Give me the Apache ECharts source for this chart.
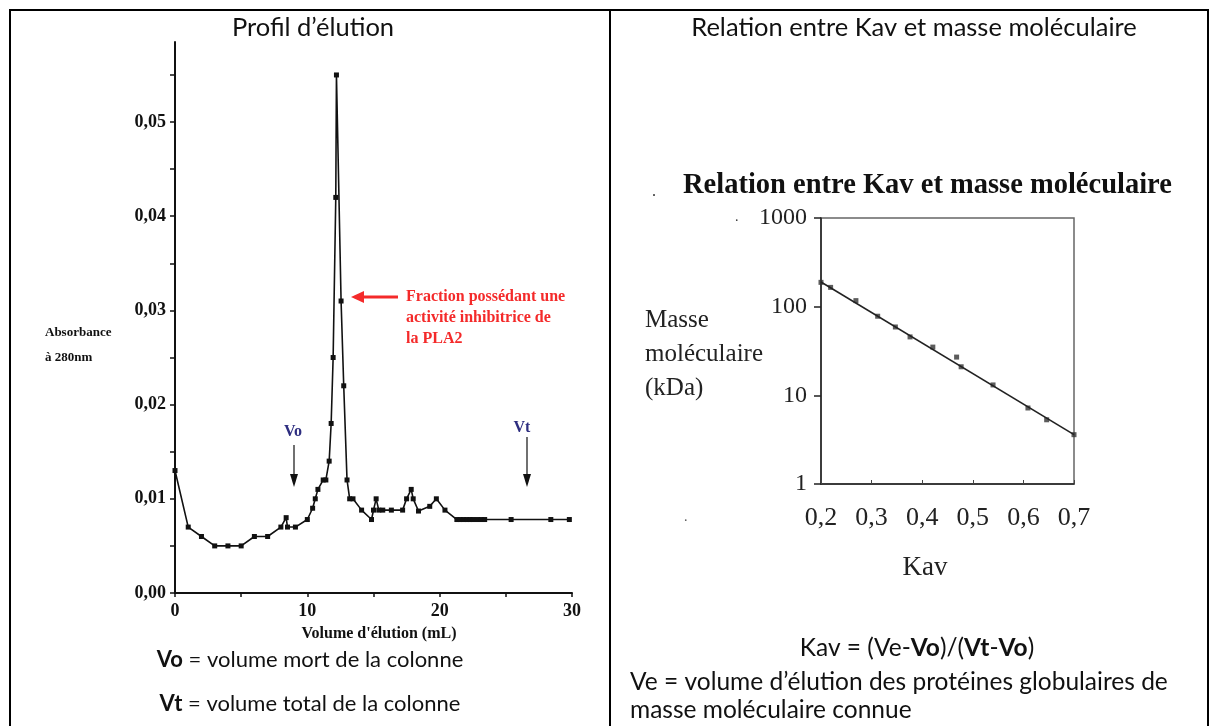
<!DOCTYPE html>
<html>
<head>
<meta charset="utf-8">
<title>Profil d'élution</title>
<script src="https://cdn.jsdelivr.net/npm/echarts@6.0.0/dist/echarts.min.js"></script>
<style>
  html, body { margin: 0; padding: 0; background: #fff; }
  #chart { width: 1218px; height: 726px; }
</style>
</head>
<body>
<div id="chart"></div>
<script>
// elution profile (left)
var elutionVolume = [0, 1, 2, 3, 4, 5, 6, 7, 8, 8.4, 8.5, 9.1, 10, 10.4, 10.6, 10.8, 11.2, 11.4,
  11.65, 11.8, 11.95, 12.15, 12.2, 12.55, 12.75, 13.0, 13.2, 13.45, 14.1, 14.85, 15.0, 15.2,
  15.4, 15.7, 16.35, 17.2, 17.5, 17.85, 18.0, 18.4, 19.25, 19.75, 20.4, 21.3, 21.55, 21.8,
  22.05, 22.3, 22.5, 22.85, 23.15, 23.4, 25.4, 28.4, 29.8];
var absorbance = [0.013, 0.007, 0.006, 0.005, 0.005, 0.005, 0.006, 0.006, 0.007, 0.008, 0.007,
  0.007, 0.0078, 0.009, 0.010, 0.011, 0.012, 0.012, 0.014, 0.018, 0.025, 0.042, 0.055, 0.031,
  0.022, 0.012, 0.010, 0.010, 0.0088, 0.0078, 0.0088, 0.010, 0.0088, 0.0088, 0.0088, 0.0088,
  0.010, 0.011, 0.010, 0.0087, 0.0092, 0.010, 0.0088, 0.0078, 0.0078, 0.0078, 0.0078, 0.0078,
  0.0078, 0.0078, 0.0078, 0.0078, 0.0078, 0.0078, 0.0078];
var absTicks = [0, 0.005, 0.01, 0.015, 0.02, 0.025, 0.03, 0.035, 0.04, 0.045, 0.05, 0.055];
var absLabels = [0, 0.01, 0.02, 0.03, 0.04, 0.05];
var volTicks = [0, 5, 10, 15, 20, 25, 30];
var volLabels = [0, 10, 20, 30];

// Kav vs molecular mass (right)
var kavPoints = [0.2, 0.219, 0.269, 0.312, 0.347, 0.376, 0.421, 0.468, 0.477, 0.54, 0.609, 0.646, 0.7];
var massPoints = [188, 165, 117, 78, 59, 45.6, 35, 27, 21, 13.1, 7.2, 5.3, 3.6];
var fitKav = [0.2, 0.7];
var fitMass = [190, 3.6];
var kavTicks = [0.2, 0.3, 0.4, 0.5, 0.6, 0.7];

var serif = '"Liberation Serif", "DejaVu Serif", serif';
var sans = 'Lato, "Open Sans", sans-serif';

function pairs(xs, ys) {
  return xs.map(function (x, i) { return [x, ys[i]]; });
}
function comma(v, d) {
  return Number(v).toFixed(d).replace('.', ',');
}

var chart = echarts.init(document.getElementById('chart'));

var option = {
  backgroundColor: '#fff',
  animation: false,
  grid: [
    { left: 175, right: 646, top: 42, bottom: 133 },
    { left: 821, right: 144, top: 218, bottom: 242, show: true, borderColor: '#666', borderWidth: 1.5 }
  ],
  xAxis: [
    {
      gridIndex: 0, type: 'value', min: 0, max: 30, interval: 5,
      axisLine: { show: true, onZero: false, lineStyle: { color: '#111', width: 2 } },
      axisTick: { show: true, length: 4, customValues: volTicks, lineStyle: { color: '#111', width: 1.5 } },
      axisLabel: {
        customValues: volLabels, margin: 9,
        fontFamily: serif, fontWeight: 'bold', fontSize: 18, color: '#111'
      },
      splitLine: { show: false }
    },
    {
      gridIndex: 1, type: 'value', min: 0.2, max: 0.7, interval: 0.1,
      axisLine: { show: true, onZero: false, lineStyle: { color: '#222', width: 1.5 } },
      axisTick: { show: true, inside: true, length: 4, customValues: kavTicks, lineStyle: { color: '#444' } },
      axisLabel: {
        customValues: kavTicks, margin: 21,
        fontFamily: serif, fontSize: 26, color: '#222',
        formatter: function (v) { return comma(v, 1); }
      },
      splitLine: { show: false }
    }
  ],
  yAxis: [
    {
      gridIndex: 0, type: 'value', min: 0, max: 0.0585,
      axisLine: { show: true, onZero: false, lineStyle: { color: '#111', width: 2 } },
      axisTick: { show: true, length: 5, customValues: absTicks, lineStyle: { color: '#111', width: 1.5 } },
      axisLabel: {
        customValues: absLabels, margin: 9,
        fontFamily: serif, fontWeight: 'bold', fontSize: 18, color: '#111',
        formatter: function (v) { return comma(v, 2); }
      },
      splitLine: { show: false }
    },
    {
      gridIndex: 1, type: 'log', min: 1, max: 1000, logBase: 10,
      axisLine: { show: true, onZero: false, lineStyle: { color: '#222', width: 1.5 } },
      axisTick: { show: true, length: 7, lineStyle: { color: '#222', width: 1.5 } },
      axisLabel: {
        margin: 14, fontFamily: serif, fontSize: 24, color: '#222',
        formatter: function (v) { return String(Math.round(v)); }
      },
      splitLine: { show: false },
      minorTick: { show: false }
    }
  ],
  series: [
    {
      name: 'Absorbance', type: 'line', xAxisIndex: 0, yAxisIndex: 0,
      data: pairs(elutionVolume, absorbance),
      symbol: 'rect', symbolSize: 5,
      lineStyle: { color: '#111', width: 1.6 },
      itemStyle: { color: '#111' }
    },
    {
      name: 'Droite', type: 'line', xAxisIndex: 1, yAxisIndex: 1,
      data: pairs(fitKav, fitMass),
      symbol: 'none',
      lineStyle: { color: '#222', width: 1.6 }
    },
    {
      name: 'Étalons', type: 'scatter', xAxisIndex: 1, yAxisIndex: 1,
      data: pairs(kavPoints, massPoints),
      symbol: 'rect', symbolSize: 5,
      itemStyle: { color: '#333' }
    }
  ],
  graphic: [
    // table borders
    { type: 'line', shape: { x1: 9, y1: 10, x2: 1209, y2: 10 }, style: { stroke: '#000', lineWidth: 2 } },
    { type: 'line', shape: { x1: 10, y1: 10, x2: 10, y2: 726 }, style: { stroke: '#000', lineWidth: 2 } },
    { type: 'line', shape: { x1: 610, y1: 10, x2: 610, y2: 726 }, style: { stroke: '#000', lineWidth: 2 } },
    { type: 'line', shape: { x1: 1208, y1: 10, x2: 1208, y2: 726 }, style: { stroke: '#000', lineWidth: 2 } },

    // cell titles
    { type: 'text', x: 313, y: 28, style: { text: 'Profil d’élution', font: '25.5px ' + sans, fill: '#111', align: 'center', verticalAlign: 'middle' } },
    { type: 'text', x: 914, y: 28, style: { text: 'Relation entre Kav et masse moléculaire', font: '25.5px ' + sans, fill: '#111', align: 'center', verticalAlign: 'middle' } },

    // left chart annotations
    { type: 'text', x: 45, y: 320, style: { text: 'Absorbance\nà 280nm', font: 'bold 13px ' + serif, lineHeight: 25, fill: '#111' } },
    { type: 'text', x: 379, y: 634, style: { text: 'Volume d\'élution (mL)', font: 'bold 16px ' + serif, fill: '#111', align: 'center', verticalAlign: 'middle' } },
    { type: 'text', x: 406, y: 286, style: { text: 'Fraction possédant une\nactivité inhibitrice de\nla PLA2', font: 'bold 16px ' + serif, lineHeight: 21, fill: '#f42a2a' } },
    { type: 'line', shape: { x1: 362, y1: 297, x2: 398, y2: 297 }, style: { stroke: '#f42a2a', lineWidth: 3 } },
    { type: 'polygon', shape: { points: [[351, 297], [364, 291], [364, 303]] }, style: { fill: '#f42a2a' } },
    { type: 'text', x: 293, y: 432, style: { text: 'Vo', font: 'bold 16px ' + serif, fill: '#2e2e80', align: 'center', verticalAlign: 'middle' } },
    { type: 'line', shape: { x1: 294, y1: 445, x2: 294, y2: 478 }, style: { stroke: '#111', lineWidth: 1.2 } },
    { type: 'polygon', shape: { points: [[294, 487], [290, 474], [298, 474]] }, style: { fill: '#111' } },
    { type: 'text', x: 522, y: 428, style: { text: 'Vt', font: 'bold 16px ' + serif, fill: '#2e2e80', align: 'center', verticalAlign: 'middle' } },
    { type: 'line', shape: { x1: 527, y1: 437, x2: 527, y2: 478 }, style: { stroke: '#111', lineWidth: 1.2 } },
    { type: 'polygon', shape: { points: [[527, 487], [523, 474], [531, 474]] }, style: { fill: '#111' } },
    { type: 'text', x: 310, y: 660, style: { text: '{b|Vo} = volume mort de la colonne', font: '22px ' + sans, fill: '#111', align: 'center', verticalAlign: 'middle', rich: { b: { font: 'bold 22px ' + sans, fill: '#111' } } } },
    { type: 'text', x: 310, y: 704, style: { text: '{b|Vt} = volume total de la colonne', font: '22px ' + sans, fill: '#111', align: 'center', verticalAlign: 'middle', rich: { b: { font: 'bold 22px ' + sans, fill: '#111' } } } },

    // right chart annotations
    { type: 'text', x: 683, y: 186, style: { text: 'Relation entre Kav et masse moléculaire', font: 'bold 28.5px ' + serif, fill: '#111', verticalAlign: 'middle' } },
    { type: 'text', x: 645, y: 303, style: { text: 'Masse\nmoléculaire\n(kDa)', font: '25px ' + serif, lineHeight: 34, fill: '#222' } },
    { type: 'text', x: 925, y: 568, style: { text: 'Kav', font: '27px ' + serif, fill: '#222', align: 'center', verticalAlign: 'middle' } },
    { type: 'text', x: 652, y: 184, style: { text: '.', font: '16px ' + serif, fill: '#333' } },
    { type: 'text', x: 735, y: 210, style: { text: '.', font: '14px ' + serif, fill: '#333' } },
    { type: 'text', x: 684, y: 510, style: { text: '.', font: '14px ' + serif, fill: '#555' } },
    { type: 'text', x: 917, y: 648, style: { text: 'Kav = (Ve-{b|Vo})/({b|Vt}-{b|Vo})', font: '24.5px ' + sans, fill: '#111', align: 'center', verticalAlign: 'middle', rich: { b: { font: 'bold 24.5px ' + sans, fill: '#111' } } } },
    { type: 'text', x: 630, y: 682, style: { text: 'Ve = volume d’élution des protéines globulaires de', font: '24.5px ' + sans, fill: '#111', verticalAlign: 'middle' } },
    { type: 'text', x: 630, y: 710, style: { text: 'masse moléculaire connue', font: '24.5px ' + sans, fill: '#111', verticalAlign: 'middle' } }
  ]
};

chart.setOption(option);
</script>
</body>
</html>
